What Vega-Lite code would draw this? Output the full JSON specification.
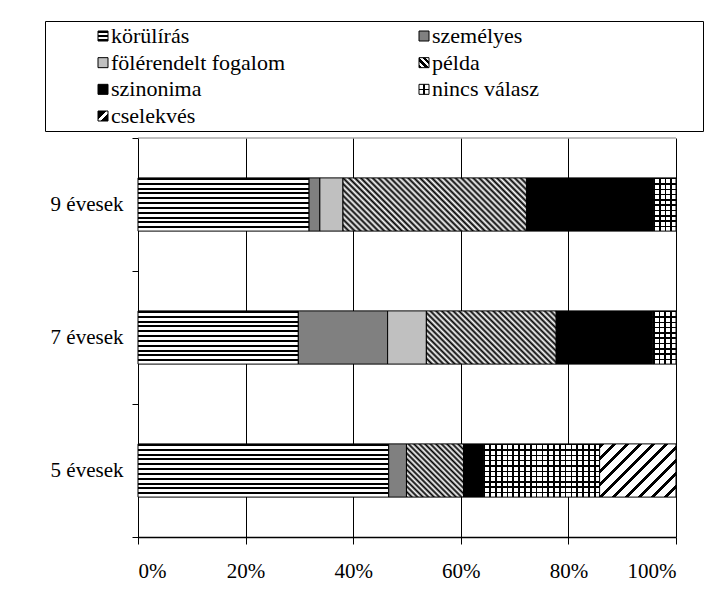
{
  "$schema": "https://vega.github.io/schema/vega-lite/v6.json",
  "background": "white",
  "padding": {"left": 44, "top": 20, "right": 0, "bottom": 0},
  "spacing": -5,
  "config": {
    "font": "Liberation Serif",
    "text": {"font": "Liberation Serif", "fontSize": 22},
    "view": {"stroke": null},
    "axis": {"labelFont": "Liberation Serif", "labelColor": "#000", "domainColor": "#000", "tickColor": "#000", "title": null}
  },
  "datasets": {
    "bars": [
      {"age": "9 évesek", "cat": "körülírás", "ord": 1, "value": 31.8},
      {"age": "9 évesek", "cat": "személyes", "ord": 2, "value": 2.0},
      {"age": "9 évesek", "cat": "fölérendelt fogalom", "ord": 3, "value": 4.3},
      {"age": "9 évesek", "cat": "példa", "ord": 4, "value": 34.1},
      {"age": "9 évesek", "cat": "szinonima", "ord": 5, "value": 23.6},
      {"age": "9 évesek", "cat": "nincs válasz", "ord": 6, "value": 4.2},
      {"age": "7 évesek", "cat": "körülírás", "ord": 1, "value": 29.8},
      {"age": "7 évesek", "cat": "személyes", "ord": 2, "value": 16.6},
      {"age": "7 évesek", "cat": "fölérendelt fogalom", "ord": 3, "value": 7.2},
      {"age": "7 évesek", "cat": "példa", "ord": 4, "value": 24.1},
      {"age": "7 évesek", "cat": "szinonima", "ord": 5, "value": 18.0},
      {"age": "7 évesek", "cat": "nincs válasz", "ord": 6, "value": 4.3},
      {"age": "5 évesek", "cat": "körülírás", "ord": 1, "value": 46.6},
      {"age": "5 évesek", "cat": "személyes", "ord": 2, "value": 3.3},
      {"age": "5 évesek", "cat": "példa", "ord": 4, "value": 10.6},
      {"age": "5 évesek", "cat": "szinonima", "ord": 5, "value": 3.7},
      {"age": "5 évesek", "cat": "nincs válasz", "ord": 6, "value": 21.6},
      {"age": "5 évesek", "cat": "cselekvés", "ord": 7, "value": 14.2}
    ],
    "legend": [
      {"label": "körülírás", "col": 1, "row": 1},
      {"label": "személyes", "col": 2, "row": 1},
      {"label": "fölérendelt fogalom", "col": 1, "row": 2},
      {"label": "példa", "col": 2, "row": 2},
      {"label": "szinonima", "col": 1, "row": 3},
      {"label": "nincs válasz", "col": 2, "row": 3},
      {"label": "cselekvés", "col": 1, "row": 4}
    ]
  },
  "vconcat": [
    {
      "width": 658,
      "height": 110,
      "data": {"name": "legend"},
      "view": {"stroke": "#000"},
      "encoding": {
        "x": {"field": "col", "type": "ordinal", "scale": {"type": "point", "range": [58, 379], "padding": 0}, "axis": null},
        "y": {"field": "row", "type": "ordinal", "scale": {"type": "point", "range": [15, 95], "padding": 0}, "axis": null}
      },
      "layer": [
        {
          "mark": {"type": "text", "align": "left", "baseline": "middle", "dx": 8, "fontSize": 22, "font": "Liberation Serif", "fill": "#000"},
          "encoding": {"text": {"field": "label"}}
        },
        {
          "transform": [{"filter": "datum.row === 1 && datum.col === 1"}],
          "mark": {"type": "point", "shape": "square", "size": 100, "filled": true, "opacity": 1, "stroke": "#000", "strokeWidth": 1,
            "fill": {"gradient": "linear", "x1": 0, "y1": 0, "x2": 0, "y2": 1, "stops": [
              {"offset": 0, "color": "#000"}, {"offset": 0.22, "color": "#000"}, {"offset": 0.22, "color": "#fff"}, {"offset": 0.4, "color": "#fff"},
              {"offset": 0.4, "color": "#000"}, {"offset": 0.6, "color": "#000"}, {"offset": 0.6, "color": "#fff"}, {"offset": 0.78, "color": "#fff"},
              {"offset": 0.78, "color": "#000"}, {"offset": 1, "color": "#000"}]}}
        },
        {
          "transform": [{"filter": "datum.label === 'személyes' || datum.label === 'fölérendelt fogalom' || datum.label === 'szinonima'"}],
          "mark": {"type": "point", "shape": "square", "size": 100, "filled": true, "opacity": 1, "stroke": "#000", "strokeWidth": 1},
          "encoding": {
            "fill": {"field": "label", "type": "nominal", "legend": null,
              "scale": {"domain": ["személyes", "fölérendelt fogalom", "szinonima"], "range": ["#808080", "#c0c0c0", "#000000"]}}
          }
        },
        {
          "transform": [{"filter": "datum.label === 'példa'"}],
          "mark": {"type": "point", "shape": "square", "size": 100, "filled": true, "opacity": 1, "stroke": "#000", "strokeWidth": 1,
            "fill": {"gradient": "linear", "x1": 0, "y1": 1, "x2": 1, "y2": 0, "stops": [
              {"offset": 0, "color": "#000"}, {"offset": 0.167, "color": "#000"}, {"offset": 0.167, "color": "#fff"}, {"offset": 0.333, "color": "#fff"},
              {"offset": 0.333, "color": "#000"}, {"offset": 0.5, "color": "#000"}, {"offset": 0.5, "color": "#fff"}, {"offset": 0.667, "color": "#fff"},
              {"offset": 0.667, "color": "#000"}, {"offset": 0.833, "color": "#000"}, {"offset": 0.833, "color": "#fff"}, {"offset": 1, "color": "#fff"}]}}
        },
        {
          "transform": [{"filter": "datum.label === 'nincs válasz'"}],
          "mark": {"type": "point", "shape": "square", "size": 100, "filled": true, "opacity": 1, "strokeWidth": 0,
            "fill": {"gradient": "linear", "x1": 0, "y1": 0, "x2": 0, "y2": 1, "stops": [
              {"offset": 0, "color": "#fff"}, {"offset": 0.42, "color": "#fff"}, {"offset": 0.42, "color": "#000"}, {"offset": 0.58, "color": "#000"},
              {"offset": 0.58, "color": "#fff"}, {"offset": 1, "color": "#fff"}]}}
        },
        {
          "transform": [{"filter": "datum.label === 'nincs válasz'"}],
          "mark": {"type": "point", "shape": "square", "size": 100, "filled": true, "opacity": 1, "stroke": "#000", "strokeWidth": 1,
            "fill": {"gradient": "linear", "x1": 0, "y1": 0, "x2": 1, "y2": 0, "stops": [
              {"offset": 0, "color": "rgba(0,0,0,0)"}, {"offset": 0.42, "color": "rgba(0,0,0,0)"}, {"offset": 0.42, "color": "#000"}, {"offset": 0.58, "color": "#000"},
              {"offset": 0.58, "color": "rgba(0,0,0,0)"}, {"offset": 1, "color": "rgba(0,0,0,0)"}]}}
        },
        {
          "transform": [{"filter": "datum.label === 'cselekvés'"}],
          "mark": {"type": "point", "shape": "square", "size": 100, "filled": true, "opacity": 1, "stroke": "#000", "strokeWidth": 1,
            "fill": {"gradient": "linear", "x1": 0, "y1": 0, "x2": 1, "y2": 1, "stops": [
              {"offset": 0, "color": "#000"}, {"offset": 0.4, "color": "#000"}, {"offset": 0.4, "color": "#fff"}, {"offset": 0.6, "color": "#fff"},
              {"offset": 0.6, "color": "#000"}, {"offset": 1, "color": "#000"}]}}
        }
      ]
    },
    {
      "width": 631,
      "height": 399,
      "data": {"name": "bars"},
      "transform": [
        {"stack": "value", "groupby": ["age"], "sort": [{"field": "ord", "order": "ascending"}], "as": ["v0", "v1"], "offset": "normalize"}
      ],
      "encoding": {
        "y": {"field": "age", "type": "nominal", "sort": ["9 évesek", "7 évesek", "5 évesek"],
          "scale": {"paddingInner": 0, "paddingOuter": 0},
          "axis": {"tickBand": "extent", "labelFontSize": 21, "labelPadding": 9, "tickSize": 6, "domainWidth": 1, "offset": -93}},
        "x": {"field": "v0", "type": "quantitative", "scale": {"domain": [0, 1], "nice": false, "range": [93, 631]},
          "axis": {"format": ".0%", "values": [0, 0.2, 0.4, 0.6, 0.8, 1], "grid": true, "gridColor": "#000", "gridOpacity": 1,
            "labelFontSize": 21, "labelPadding": 16, "tickSize": 7, "domainWidth": 1.5}},
        "x2": {"field": "v1"}
      },
      "layer": [
        {
          "transform": [{"filter": "datum.ord === 1"}],
          "mark": {"type": "bar", "height": {"band": 0.4}, "stroke": "#000", "strokeWidth": 1,
            "fill": {"gradient": "linear", "x1": 0, "y1": 0, "x2": 0, "y2": 1, "stops": [
              {"offset": 0, "color": "#000"}, {"offset": 0.0364, "color": "#000"}, {"offset": 0.0364, "color": "#fff"}, {"offset": 0.0909, "color": "#fff"},
              {"offset": 0.0909, "color": "#000"}, {"offset": 0.1273, "color": "#000"}, {"offset": 0.1273, "color": "#fff"}, {"offset": 0.1818, "color": "#fff"},
              {"offset": 0.1818, "color": "#000"}, {"offset": 0.2182, "color": "#000"}, {"offset": 0.2182, "color": "#fff"}, {"offset": 0.2727, "color": "#fff"},
              {"offset": 0.2727, "color": "#000"}, {"offset": 0.3091, "color": "#000"}, {"offset": 0.3091, "color": "#fff"}, {"offset": 0.3636, "color": "#fff"},
              {"offset": 0.3636, "color": "#000"}, {"offset": 0.4, "color": "#000"}, {"offset": 0.4, "color": "#fff"}, {"offset": 0.4545, "color": "#fff"},
              {"offset": 0.4545, "color": "#000"}, {"offset": 0.4909, "color": "#000"}, {"offset": 0.4909, "color": "#fff"}, {"offset": 0.5455, "color": "#fff"},
              {"offset": 0.5455, "color": "#000"}, {"offset": 0.5818, "color": "#000"}, {"offset": 0.5818, "color": "#fff"}, {"offset": 0.6364, "color": "#fff"},
              {"offset": 0.6364, "color": "#000"}, {"offset": 0.6727, "color": "#000"}, {"offset": 0.6727, "color": "#fff"}, {"offset": 0.7273, "color": "#fff"},
              {"offset": 0.7273, "color": "#000"}, {"offset": 0.7636, "color": "#000"}, {"offset": 0.7636, "color": "#fff"}, {"offset": 0.8182, "color": "#fff"},
              {"offset": 0.8182, "color": "#000"}, {"offset": 0.8545, "color": "#000"}, {"offset": 0.8545, "color": "#fff"}, {"offset": 0.9091, "color": "#fff"},
              {"offset": 0.9091, "color": "#000"}, {"offset": 0.9455, "color": "#000"}, {"offset": 0.9455, "color": "#fff"}, {"offset": 1, "color": "#fff"}]}}
        },
        {
          "transform": [{"filter": "datum.ord === 2 || datum.ord === 3 || datum.ord === 5"}],
          "mark": {"type": "bar", "height": {"band": 0.4}, "stroke": "#000", "strokeWidth": 1},
          "encoding": {
            "fill": {"field": "cat", "type": "nominal", "legend": null,
              "scale": {"domain": ["személyes", "fölérendelt fogalom", "szinonima"], "range": ["#808080", "#c0c0c0", "#000000"]}}
          }
        },
        {
          "transform": [{"filter": "datum.ord === 4 && datum.age === '9 évesek'"}],
          "mark": {"type": "bar", "height": {"band": 0.4}, "stroke": "#000", "strokeWidth": 1,
            "fill": {"gradient": "linear", "x1": 0, "y1": 1, "x2": 1.19, "y2": 0.655, "stops": [
              {"offset": 0, "color": "#000"}, {"offset": 0.0125, "color": "#fff"}, {"offset": 0.025, "color": "#000"}, {"offset": 0.0375, "color": "#fff"},
              {"offset": 0.05, "color": "#000"}, {"offset": 0.0625, "color": "#fff"}, {"offset": 0.075, "color": "#000"}, {"offset": 0.0875, "color": "#fff"},
              {"offset": 0.1, "color": "#000"}, {"offset": 0.1125, "color": "#fff"}, {"offset": 0.125, "color": "#000"}, {"offset": 0.1375, "color": "#fff"},
              {"offset": 0.15, "color": "#000"}, {"offset": 0.1625, "color": "#fff"}, {"offset": 0.175, "color": "#000"}, {"offset": 0.1875, "color": "#fff"},
              {"offset": 0.2, "color": "#000"}, {"offset": 0.2125, "color": "#fff"}, {"offset": 0.225, "color": "#000"}, {"offset": 0.2375, "color": "#fff"},
              {"offset": 0.25, "color": "#000"}, {"offset": 0.2625, "color": "#fff"}, {"offset": 0.275, "color": "#000"}, {"offset": 0.2875, "color": "#fff"},
              {"offset": 0.3, "color": "#000"}, {"offset": 0.3125, "color": "#fff"}, {"offset": 0.325, "color": "#000"}, {"offset": 0.3375, "color": "#fff"},
              {"offset": 0.35, "color": "#000"}, {"offset": 0.3625, "color": "#fff"}, {"offset": 0.375, "color": "#000"}, {"offset": 0.3875, "color": "#fff"},
              {"offset": 0.4, "color": "#000"}, {"offset": 0.4125, "color": "#fff"}, {"offset": 0.425, "color": "#000"}, {"offset": 0.4375, "color": "#fff"},
              {"offset": 0.45, "color": "#000"}, {"offset": 0.4625, "color": "#fff"}, {"offset": 0.475, "color": "#000"}, {"offset": 0.4875, "color": "#fff"},
              {"offset": 0.5, "color": "#000"}, {"offset": 0.5125, "color": "#fff"}, {"offset": 0.525, "color": "#000"}, {"offset": 0.5375, "color": "#fff"},
              {"offset": 0.55, "color": "#000"}, {"offset": 0.5625, "color": "#fff"}, {"offset": 0.575, "color": "#000"}, {"offset": 0.5875, "color": "#fff"},
              {"offset": 0.6, "color": "#000"}, {"offset": 0.6125, "color": "#fff"}, {"offset": 0.625, "color": "#000"}, {"offset": 0.6375, "color": "#fff"},
              {"offset": 0.65, "color": "#000"}, {"offset": 0.6625, "color": "#fff"}, {"offset": 0.675, "color": "#000"}, {"offset": 0.6875, "color": "#fff"},
              {"offset": 0.7, "color": "#000"}, {"offset": 0.7125, "color": "#fff"}, {"offset": 0.725, "color": "#000"}, {"offset": 0.7375, "color": "#fff"},
              {"offset": 0.75, "color": "#000"}, {"offset": 0.7625, "color": "#fff"}, {"offset": 0.775, "color": "#000"}, {"offset": 0.7875, "color": "#fff"},
              {"offset": 0.8, "color": "#000"}, {"offset": 0.8125, "color": "#fff"}, {"offset": 0.825, "color": "#000"}, {"offset": 0.8375, "color": "#fff"},
              {"offset": 0.85, "color": "#000"}, {"offset": 0.8625, "color": "#fff"}, {"offset": 0.875, "color": "#000"}, {"offset": 0.8875, "color": "#fff"},
              {"offset": 0.9, "color": "#000"}, {"offset": 0.9125, "color": "#fff"}, {"offset": 0.925, "color": "#000"}, {"offset": 0.9375, "color": "#fff"},
              {"offset": 0.95, "color": "#000"}, {"offset": 0.9625, "color": "#fff"}, {"offset": 0.975, "color": "#000"}, {"offset": 0.9875, "color": "#fff"},
              {"offset": 1, "color": "#000"}]}}
        },
        {
          "transform": [{"filter": "datum.ord === 4 && datum.age === '7 évesek'"}],
          "mark": {"type": "bar", "height": {"band": 0.4}, "stroke": "#000", "strokeWidth": 1,
            "fill": {"gradient": "linear", "x1": 0, "y1": 1, "x2": 1.207, "y2": 0.505, "stops": [
              {"offset": 0, "color": "#000"}, {"offset": 0.015625, "color": "#fff"}, {"offset": 0.03125, "color": "#000"}, {"offset": 0.046875, "color": "#fff"},
              {"offset": 0.0625, "color": "#000"}, {"offset": 0.078125, "color": "#fff"}, {"offset": 0.09375, "color": "#000"}, {"offset": 0.109375, "color": "#fff"},
              {"offset": 0.125, "color": "#000"}, {"offset": 0.140625, "color": "#fff"}, {"offset": 0.15625, "color": "#000"}, {"offset": 0.171875, "color": "#fff"},
              {"offset": 0.1875, "color": "#000"}, {"offset": 0.203125, "color": "#fff"}, {"offset": 0.21875, "color": "#000"}, {"offset": 0.234375, "color": "#fff"},
              {"offset": 0.25, "color": "#000"}, {"offset": 0.265625, "color": "#fff"}, {"offset": 0.28125, "color": "#000"}, {"offset": 0.296875, "color": "#fff"},
              {"offset": 0.3125, "color": "#000"}, {"offset": 0.328125, "color": "#fff"}, {"offset": 0.34375, "color": "#000"}, {"offset": 0.359375, "color": "#fff"},
              {"offset": 0.375, "color": "#000"}, {"offset": 0.390625, "color": "#fff"}, {"offset": 0.40625, "color": "#000"}, {"offset": 0.421875, "color": "#fff"},
              {"offset": 0.4375, "color": "#000"}, {"offset": 0.453125, "color": "#fff"}, {"offset": 0.46875, "color": "#000"}, {"offset": 0.484375, "color": "#fff"},
              {"offset": 0.5, "color": "#000"}, {"offset": 0.515625, "color": "#fff"}, {"offset": 0.53125, "color": "#000"}, {"offset": 0.546875, "color": "#fff"},
              {"offset": 0.5625, "color": "#000"}, {"offset": 0.578125, "color": "#fff"}, {"offset": 0.59375, "color": "#000"}, {"offset": 0.609375, "color": "#fff"},
              {"offset": 0.625, "color": "#000"}, {"offset": 0.640625, "color": "#fff"}, {"offset": 0.65625, "color": "#000"}, {"offset": 0.671875, "color": "#fff"},
              {"offset": 0.6875, "color": "#000"}, {"offset": 0.703125, "color": "#fff"}, {"offset": 0.71875, "color": "#000"}, {"offset": 0.734375, "color": "#fff"},
              {"offset": 0.75, "color": "#000"}, {"offset": 0.765625, "color": "#fff"}, {"offset": 0.78125, "color": "#000"}, {"offset": 0.796875, "color": "#fff"},
              {"offset": 0.8125, "color": "#000"}, {"offset": 0.828125, "color": "#fff"}, {"offset": 0.84375, "color": "#000"}, {"offset": 0.859375, "color": "#fff"},
              {"offset": 0.875, "color": "#000"}, {"offset": 0.890625, "color": "#fff"}, {"offset": 0.90625, "color": "#000"}, {"offset": 0.921875, "color": "#fff"},
              {"offset": 0.9375, "color": "#000"}, {"offset": 0.953125, "color": "#fff"}, {"offset": 0.96875, "color": "#000"}, {"offset": 0.984375, "color": "#fff"},
              {"offset": 1, "color": "#000"}]}}
        },
        {
          "transform": [{"filter": "datum.ord === 4 && datum.age === '5 évesek'"}],
          "mark": {"type": "bar", "height": {"band": 0.4}, "stroke": "#000", "strokeWidth": 1,
            "fill": {"gradient": "linear", "x1": 0, "y1": 1, "x2": 1.033, "y2": 0.036, "stops": [
              {"offset": 0, "color": "#000"}, {"offset": 0.025, "color": "#fff"}, {"offset": 0.05, "color": "#000"}, {"offset": 0.075, "color": "#fff"},
              {"offset": 0.1, "color": "#000"}, {"offset": 0.125, "color": "#fff"}, {"offset": 0.15, "color": "#000"}, {"offset": 0.175, "color": "#fff"},
              {"offset": 0.2, "color": "#000"}, {"offset": 0.225, "color": "#fff"}, {"offset": 0.25, "color": "#000"}, {"offset": 0.275, "color": "#fff"},
              {"offset": 0.3, "color": "#000"}, {"offset": 0.325, "color": "#fff"}, {"offset": 0.35, "color": "#000"}, {"offset": 0.375, "color": "#fff"},
              {"offset": 0.4, "color": "#000"}, {"offset": 0.425, "color": "#fff"}, {"offset": 0.45, "color": "#000"}, {"offset": 0.475, "color": "#fff"},
              {"offset": 0.5, "color": "#000"}, {"offset": 0.525, "color": "#fff"}, {"offset": 0.55, "color": "#000"}, {"offset": 0.575, "color": "#fff"},
              {"offset": 0.6, "color": "#000"}, {"offset": 0.625, "color": "#fff"}, {"offset": 0.65, "color": "#000"}, {"offset": 0.675, "color": "#fff"},
              {"offset": 0.7, "color": "#000"}, {"offset": 0.725, "color": "#fff"}, {"offset": 0.75, "color": "#000"}, {"offset": 0.775, "color": "#fff"},
              {"offset": 0.8, "color": "#000"}, {"offset": 0.825, "color": "#fff"}, {"offset": 0.85, "color": "#000"}, {"offset": 0.875, "color": "#fff"},
              {"offset": 0.9, "color": "#000"}, {"offset": 0.925, "color": "#fff"}, {"offset": 0.95, "color": "#000"}, {"offset": 0.975, "color": "#fff"},
              {"offset": 1, "color": "#000"}]}}
        },
        {
          "transform": [{"filter": "datum.ord === 6"}],
          "mark": {"type": "bar", "height": {"band": 0.4}, "strokeWidth": 0,
            "fill": {"gradient": "linear", "x1": 0, "y1": 0, "x2": 0, "y2": 1, "stops": [
              {"offset": 0, "color": "#000"}, {"offset": 0.03, "color": "#000"}, {"offset": 0.03, "color": "#fff"}, {"offset": 0.1, "color": "#fff"},
              {"offset": 0.1, "color": "#000"}, {"offset": 0.13, "color": "#000"}, {"offset": 0.13, "color": "#fff"}, {"offset": 0.2, "color": "#fff"},
              {"offset": 0.2, "color": "#000"}, {"offset": 0.23, "color": "#000"}, {"offset": 0.23, "color": "#fff"}, {"offset": 0.3, "color": "#fff"},
              {"offset": 0.3, "color": "#000"}, {"offset": 0.33, "color": "#000"}, {"offset": 0.33, "color": "#fff"}, {"offset": 0.4, "color": "#fff"},
              {"offset": 0.4, "color": "#000"}, {"offset": 0.43, "color": "#000"}, {"offset": 0.43, "color": "#fff"}, {"offset": 0.5, "color": "#fff"},
              {"offset": 0.5, "color": "#000"}, {"offset": 0.53, "color": "#000"}, {"offset": 0.53, "color": "#fff"}, {"offset": 0.6, "color": "#fff"},
              {"offset": 0.6, "color": "#000"}, {"offset": 0.63, "color": "#000"}, {"offset": 0.63, "color": "#fff"}, {"offset": 0.7, "color": "#fff"},
              {"offset": 0.7, "color": "#000"}, {"offset": 0.73, "color": "#000"}, {"offset": 0.73, "color": "#fff"}, {"offset": 0.8, "color": "#fff"},
              {"offset": 0.8, "color": "#000"}, {"offset": 0.83, "color": "#000"}, {"offset": 0.83, "color": "#fff"}, {"offset": 0.9, "color": "#fff"},
              {"offset": 0.9, "color": "#000"}, {"offset": 0.93, "color": "#000"}, {"offset": 0.93, "color": "#fff"}, {"offset": 1, "color": "#fff"}]}}
        },
        {
          "transform": [{"filter": "datum.ord === 6 && datum.age !== '5 évesek'"}],
          "mark": {"type": "bar", "height": {"band": 0.4}, "stroke": "#000", "strokeWidth": 1,
            "fill": {"gradient": "linear", "x1": 0, "y1": 0, "x2": 1, "y2": 0, "stops": [
              {"offset": 0, "color": "#000"}, {"offset": 0.075, "color": "#000"}, {"offset": 0.075, "color": "rgba(0,0,0,0)"}, {"offset": 0.25, "color": "rgba(0,0,0,0)"},
              {"offset": 0.25, "color": "#000"}, {"offset": 0.325, "color": "#000"}, {"offset": 0.325, "color": "rgba(0,0,0,0)"}, {"offset": 0.5, "color": "rgba(0,0,0,0)"},
              {"offset": 0.5, "color": "#000"}, {"offset": 0.575, "color": "#000"}, {"offset": 0.575, "color": "rgba(0,0,0,0)"}, {"offset": 0.75, "color": "rgba(0,0,0,0)"},
              {"offset": 0.75, "color": "#000"}, {"offset": 0.825, "color": "#000"}, {"offset": 0.825, "color": "rgba(0,0,0,0)"}, {"offset": 1, "color": "rgba(0,0,0,0)"}]}}
        },
        {
          "transform": [{"filter": "datum.ord === 6 && datum.age === '5 évesek'"}],
          "mark": {"type": "bar", "height": {"band": 0.4}, "stroke": "#000", "strokeWidth": 1,
            "fill": {"gradient": "linear", "x1": 0, "y1": 0, "x2": 1, "y2": 0, "stops": [
              {"offset": 0, "color": "#000"}, {"offset": 0.015, "color": "#000"}, {"offset": 0.015, "color": "rgba(0,0,0,0)"}, {"offset": 0.05, "color": "rgba(0,0,0,0)"},
              {"offset": 0.05, "color": "#000"}, {"offset": 0.065, "color": "#000"}, {"offset": 0.065, "color": "rgba(0,0,0,0)"}, {"offset": 0.1, "color": "rgba(0,0,0,0)"},
              {"offset": 0.1, "color": "#000"}, {"offset": 0.115, "color": "#000"}, {"offset": 0.115, "color": "rgba(0,0,0,0)"}, {"offset": 0.15, "color": "rgba(0,0,0,0)"},
              {"offset": 0.15, "color": "#000"}, {"offset": 0.165, "color": "#000"}, {"offset": 0.165, "color": "rgba(0,0,0,0)"}, {"offset": 0.2, "color": "rgba(0,0,0,0)"},
              {"offset": 0.2, "color": "#000"}, {"offset": 0.215, "color": "#000"}, {"offset": 0.215, "color": "rgba(0,0,0,0)"}, {"offset": 0.25, "color": "rgba(0,0,0,0)"},
              {"offset": 0.25, "color": "#000"}, {"offset": 0.265, "color": "#000"}, {"offset": 0.265, "color": "rgba(0,0,0,0)"}, {"offset": 0.3, "color": "rgba(0,0,0,0)"},
              {"offset": 0.3, "color": "#000"}, {"offset": 0.315, "color": "#000"}, {"offset": 0.315, "color": "rgba(0,0,0,0)"}, {"offset": 0.35, "color": "rgba(0,0,0,0)"},
              {"offset": 0.35, "color": "#000"}, {"offset": 0.365, "color": "#000"}, {"offset": 0.365, "color": "rgba(0,0,0,0)"}, {"offset": 0.4, "color": "rgba(0,0,0,0)"},
              {"offset": 0.4, "color": "#000"}, {"offset": 0.415, "color": "#000"}, {"offset": 0.415, "color": "rgba(0,0,0,0)"}, {"offset": 0.45, "color": "rgba(0,0,0,0)"},
              {"offset": 0.45, "color": "#000"}, {"offset": 0.465, "color": "#000"}, {"offset": 0.465, "color": "rgba(0,0,0,0)"}, {"offset": 0.5, "color": "rgba(0,0,0,0)"},
              {"offset": 0.5, "color": "#000"}, {"offset": 0.515, "color": "#000"}, {"offset": 0.515, "color": "rgba(0,0,0,0)"}, {"offset": 0.55, "color": "rgba(0,0,0,0)"},
              {"offset": 0.55, "color": "#000"}, {"offset": 0.565, "color": "#000"}, {"offset": 0.565, "color": "rgba(0,0,0,0)"}, {"offset": 0.6, "color": "rgba(0,0,0,0)"},
              {"offset": 0.6, "color": "#000"}, {"offset": 0.615, "color": "#000"}, {"offset": 0.615, "color": "rgba(0,0,0,0)"}, {"offset": 0.65, "color": "rgba(0,0,0,0)"},
              {"offset": 0.65, "color": "#000"}, {"offset": 0.665, "color": "#000"}, {"offset": 0.665, "color": "rgba(0,0,0,0)"}, {"offset": 0.7, "color": "rgba(0,0,0,0)"},
              {"offset": 0.7, "color": "#000"}, {"offset": 0.715, "color": "#000"}, {"offset": 0.715, "color": "rgba(0,0,0,0)"}, {"offset": 0.75, "color": "rgba(0,0,0,0)"},
              {"offset": 0.75, "color": "#000"}, {"offset": 0.765, "color": "#000"}, {"offset": 0.765, "color": "rgba(0,0,0,0)"}, {"offset": 0.8, "color": "rgba(0,0,0,0)"},
              {"offset": 0.8, "color": "#000"}, {"offset": 0.815, "color": "#000"}, {"offset": 0.815, "color": "rgba(0,0,0,0)"}, {"offset": 0.85, "color": "rgba(0,0,0,0)"},
              {"offset": 0.85, "color": "#000"}, {"offset": 0.865, "color": "#000"}, {"offset": 0.865, "color": "rgba(0,0,0,0)"}, {"offset": 0.9, "color": "rgba(0,0,0,0)"},
              {"offset": 0.9, "color": "#000"}, {"offset": 0.915, "color": "#000"}, {"offset": 0.915, "color": "rgba(0,0,0,0)"}, {"offset": 0.95, "color": "rgba(0,0,0,0)"},
              {"offset": 0.95, "color": "#000"}, {"offset": 0.965, "color": "#000"}, {"offset": 0.965, "color": "rgba(0,0,0,0)"}, {"offset": 1, "color": "rgba(0,0,0,0)"}]}}
        },
        {
          "transform": [{"filter": "datum.ord === 7"}],
          "mark": {"type": "bar", "height": {"band": 0.4}, "stroke": "#000", "strokeWidth": 1,
            "fill": {"gradient": "linear", "x1": 0, "y1": 0, "x2": 1.142, "y2": 0.7955, "stops": [
              {"offset": 0, "color": "#000"}, {"offset": 0.035, "color": "#000"}, {"offset": 0.035, "color": "#fff"}, {"offset": 0.1, "color": "#fff"},
              {"offset": 0.1, "color": "#000"}, {"offset": 0.135, "color": "#000"}, {"offset": 0.135, "color": "#fff"}, {"offset": 0.2, "color": "#fff"},
              {"offset": 0.2, "color": "#000"}, {"offset": 0.235, "color": "#000"}, {"offset": 0.235, "color": "#fff"}, {"offset": 0.3, "color": "#fff"},
              {"offset": 0.3, "color": "#000"}, {"offset": 0.335, "color": "#000"}, {"offset": 0.335, "color": "#fff"}, {"offset": 0.4, "color": "#fff"},
              {"offset": 0.4, "color": "#000"}, {"offset": 0.435, "color": "#000"}, {"offset": 0.435, "color": "#fff"}, {"offset": 0.5, "color": "#fff"},
              {"offset": 0.5, "color": "#000"}, {"offset": 0.535, "color": "#000"}, {"offset": 0.535, "color": "#fff"}, {"offset": 0.6, "color": "#fff"},
              {"offset": 0.6, "color": "#000"}, {"offset": 0.635, "color": "#000"}, {"offset": 0.635, "color": "#fff"}, {"offset": 0.7, "color": "#fff"},
              {"offset": 0.7, "color": "#000"}, {"offset": 0.735, "color": "#000"}, {"offset": 0.735, "color": "#fff"}, {"offset": 0.8, "color": "#fff"},
              {"offset": 0.8, "color": "#000"}, {"offset": 0.835, "color": "#000"}, {"offset": 0.835, "color": "#fff"}, {"offset": 0.9, "color": "#fff"},
              {"offset": 0.9, "color": "#000"}, {"offset": 0.935, "color": "#000"}, {"offset": 0.935, "color": "#fff"}, {"offset": 1, "color": "#fff"}]}}
        },
        {
          "transform": [{"filter": "datum.ord === 1 && datum.age === '9 évesek'"}],
          "mark": {"type": "rule", "color": "#808080", "strokeWidth": 1},
          "encoding": {
            "y": {"field": "age", "type": "nominal", "sort": ["9 évesek", "7 évesek", "5 évesek"], "bandPosition": 0,
              "scale": {"paddingInner": 0, "paddingOuter": 0},
              "axis": {"tickBand": "extent", "labelFontSize": 21, "labelPadding": 9, "tickSize": 6, "domainWidth": 1, "offset": -93}},
            "x": {"datum": 0},
            "x2": {"datum": 1}
          }
        }
      ]
    }
  ]
}
